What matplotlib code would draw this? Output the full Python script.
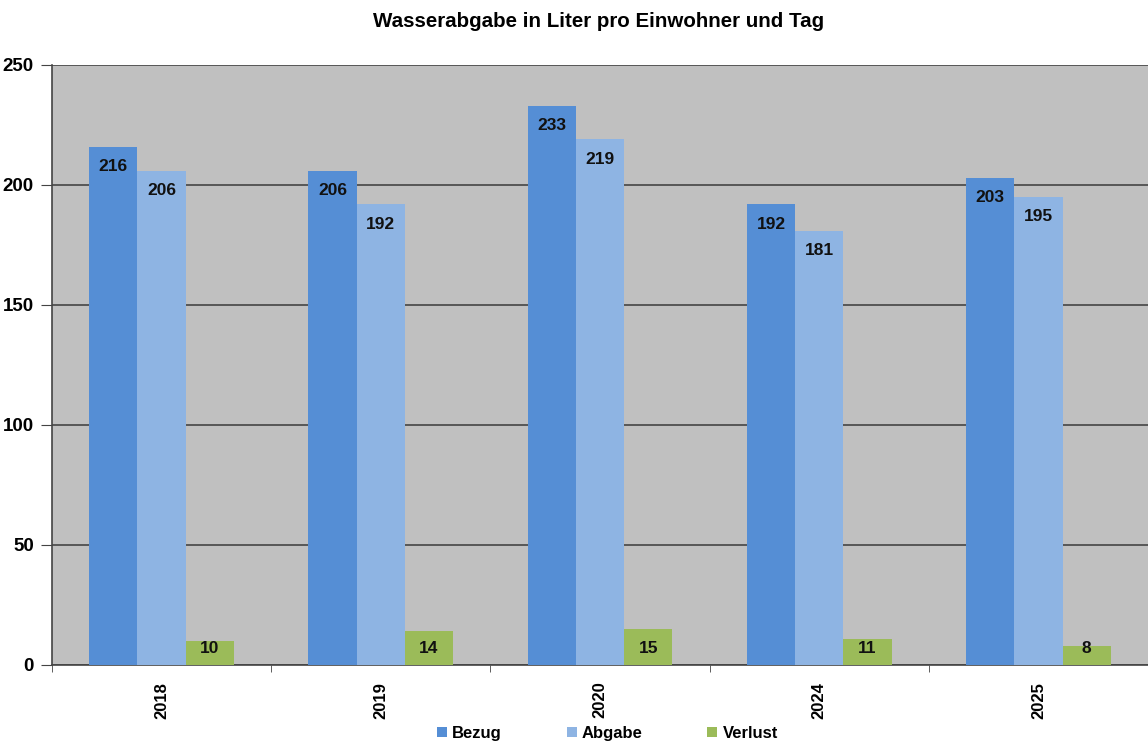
import numpy as np
import matplotlib.pyplot as plt
from matplotlib.patches import Patch

plt.rcParams['font.family'] = ['Liberation Sans', 'DejaVu Sans']

jahre = ['2018', '2019', '2020', '2024', '2025']
bezug = [216, 206, 233, 192, 203]
abgabe = [206, 192, 219, 181, 195]
verlust = [10, 14, 15, 11, 8]

serien = ['Bezug', 'Abgabe', 'Verlust']
farben = ['#558ED5', '#8EB4E3', '#9BBB59']


def main():
    fig = plt.figure(figsize=(11.48, 7.47), dpi=100)
    ax = fig.add_axes([0.0453, 0.1098, 0.9547, 0.8032])
    ax.set_facecolor('#C0C0C0')

    x = np.arange(len(jahre))
    breite = 0.22
    for i, (werte, name, farbe) in enumerate(zip([bezug, abgabe, verlust], serien, farben)):
        pos = x + (i - 1) * breite
        ax.bar(pos, werte, width=breite, color=farbe, label=name, zorder=3)
        for p, w in zip(pos, werte):
            y = w - 8.3 if w > 30 else 7
            ax.text(p, y, str(w), ha='center', va='center', fontsize=12.5,
                    fontweight='bold', color='#111111', zorder=4)

    ax.set_xlim(-0.5, len(jahre) - 0.5)
    ax.set_ylim(0, 250)
    ax.set_yticks(range(0, 251, 50))
    ax.yaxis.grid(True, color='#3a3a3a', linewidth=1.1, zorder=1)
    ax.set_axisbelow(True)

    ax.set_xticks(x)
    ax.set_xticklabels(jahre, rotation=90, fontsize=12, fontweight='bold')
    ax.tick_params(axis='x', length=0, pad=12)
    ax.set_xticks(np.arange(-0.5, len(jahre)), minor=True)
    ax.tick_params(axis='x', which='minor', length=5, color='#444444')
    ax.tick_params(axis='y', length=8, color='#444444', labelsize=13.5, pad=5)
    for t in ax.get_yticklabels():
        t.set_fontweight('bold')

    for s in ['top', 'right']:
        ax.spines[s].set_visible(False)
    for s in ['left', 'bottom']:
        ax.spines[s].set_color('#444444')
        ax.spines[s].set_linewidth(1.2)

    fig.suptitle('Wasserabgabe in Liter pro Einwohner und Tag', y=0.984,
                 fontsize=14.8, fontweight='bold', x=0.521)

    griffe = [Patch(facecolor=f, label=n) for f, n in zip(farben, serien)]
    fig.legend(handles=griffe, loc='center', bbox_to_anchor=(0.529, 0.018),
               ncol=3, frameon=False, handlelength=0.6, handleheight=0.6,
               handletextpad=0.3, columnspacing=3.9,
               prop={'weight': 'bold', 'size': 12})

    fig.savefig('out.png', dpi=100)


if __name__ == "__main__":
    main()
